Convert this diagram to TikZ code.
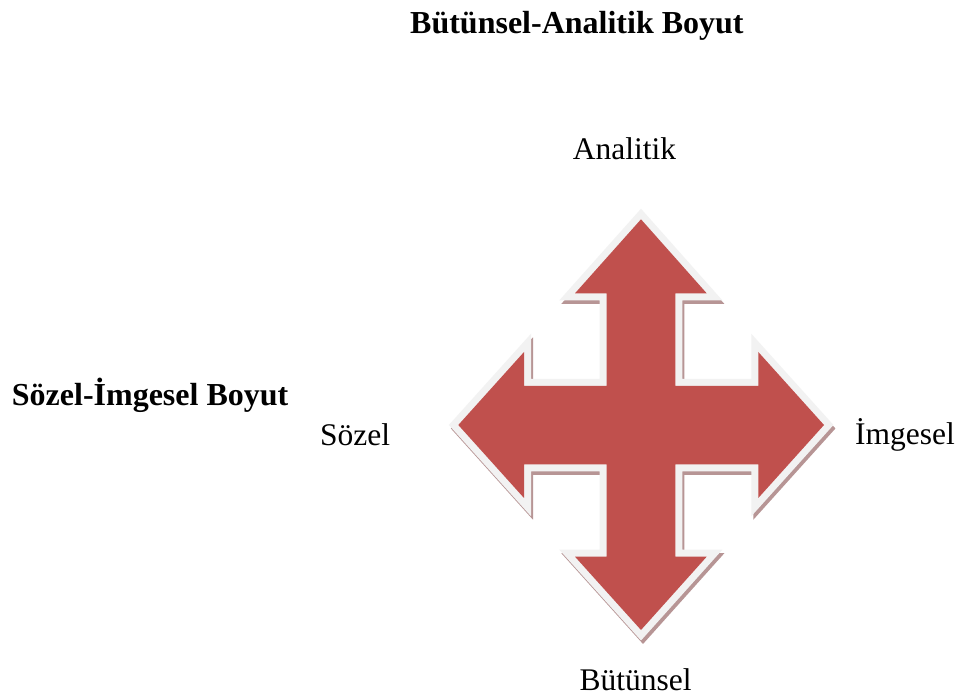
\documentclass[tikz,border=0pt]{standalone}
\usepackage{fontspec}
\setmainfont{Liberation Serif}
\definecolor{crossred}{HTML}{C0504D}
\definecolor{crossrim}{HTML}{F2F2F2}
\definecolor{crossshade}{HTML}{B79595}
\newcommand\crossoutline{(641,219.3) -- (706.7,293.3) -- (675.3,293.3) -- (675.3,386) -- (758.3,386) -- (758.3,352) -- (824,425) -- (758.3,498) -- (758.3,464.3) -- (675.3,464.3) -- (675.3,556.7) -- (706.7,556.7) -- (641,630) -- (575,556.7) -- (606.7,556.7) -- (606.7,464.3) -- (524,464.3) -- (524,498) -- (458.3,425) -- (524,352) -- (524,386) -- (606.7,386) -- (606.7,293.3) -- (575,293.3) -- cycle}
\begin{document}
\begin{tikzpicture}[x=1pt,y=-1pt,
  lbl/.style={inner sep=0pt, anchor=base west, font=\fontsize{31.5}{36}\selectfont},
  ttl/.style={inner sep=0pt, anchor=base west, font=\fontsize{32}{38}\selectfont\bfseries}]
\useasboundingbox[fill=white] (0,0) rectangle (959,700);
% cross arrow shape
\filldraw[crossshade, line width=14pt, shift={(2,3.5)}] \crossoutline;
\draw[crossrim, line width=14pt] \crossoutline;
\fill[crossred] \crossoutline;
% texts
\node[ttl] (title) at (410,33.3) {Bütünsel-Analitik Boyut};
\node[lbl] (analitik) at (572.7,160) {Analitik};
\node[ttl] (sozimg) at (11.7,406) {Sözel-İmgesel Boyut};
\node[lbl] (sozel) at (320,446) {Sözel};
\node[lbl] (imgesel) at (855,445) {İmgesel};
\node[lbl] (butunsel) at (579.3,690) {Bütünsel};
\end{tikzpicture}
\end{document}
